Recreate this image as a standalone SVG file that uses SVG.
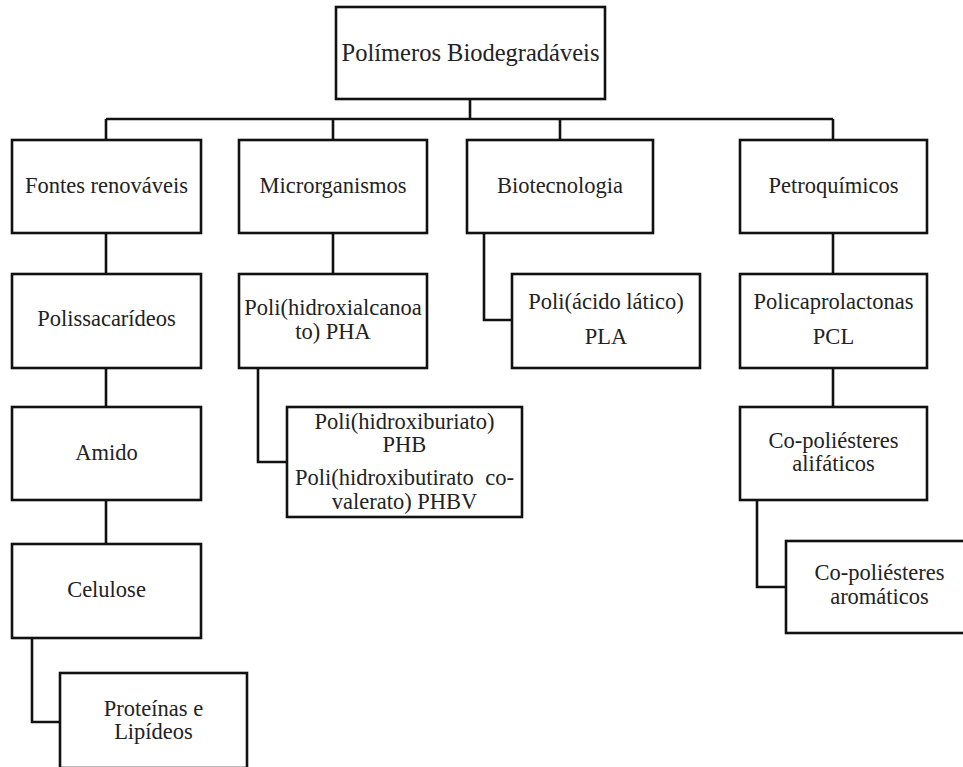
<svg xmlns="http://www.w3.org/2000/svg" width="963" height="767" viewBox="0 0 963 767">
<style>
.box{fill:#fff;stroke:#111;stroke-width:2.6}
text{font-family:'Liberation Serif','Times New Roman',Times,serif;font-size:22.5px;fill:#222;text-anchor:middle}
.root{font-size:24.5px}
.con{fill:none;stroke:#111;stroke-width:2.6;stroke-linejoin:miter}
</style>
<rect width="963" height="767" fill="#fff"/>
<g id="connectors">
<path class="con" d="M470,99 V119 M106,119 H833 M106,119 V140 M333,119 V140 M560,119 V140 M833,119 V140"/>
<path class="con" d="M106,233 V274 M106,368 V407 M106,500 V544 M32,638 V722 H60"/>
<path class="con" d="M333,233 V274 M258,368 V462 H287"/>
<path class="con" d="M484,233 V320 H512"/>
<path class="con" d="M833,233 V274 M833,368 V407 M757,500 V587 H786"/>
</g>
<g font-family="Liberation Serif, serif">
<g id="root"><rect class="box" x="336" y="7" width="269" height="92"/><text class="root" x="470.5" y="61">Polímeros Biodegradáveis</text></g>
<g id="fontes"><rect class="box" x="12" y="140" width="189" height="93"/><text x="106.5" y="193">Fontes renováveis</text></g>
<g id="micro"><rect class="box" x="239" y="140" width="188" height="93"/><text x="333" y="193">Microrganismos</text></g>
<g id="biotec"><rect class="box" x="467" y="140" width="186" height="93"/><text x="560" y="193">Biotecnologia</text></g>
<g id="petro"><rect class="box" x="740" y="140" width="187" height="93"/><text x="833.5" y="193">Petroquímicos</text></g>
<g id="polissac"><rect class="box" x="12" y="274" width="189" height="94"/><text x="106.5" y="326">Polissacarídeos</text></g>
<g id="pha"><rect class="box" x="239" y="274" width="188" height="94"/><text x="333" y="315">Poli(hidroxialcanoa</text><text x="333" y="339">to) PHA</text></g>
<g id="pla"><rect class="box" x="512" y="274" width="188" height="94"/><text x="606" y="309">Poli(ácido lático)</text><text x="606" y="344">PLA</text></g>
<g id="pcl"><rect class="box" x="740" y="274" width="187" height="94"/><text x="833.5" y="309">Policaprolactonas</text><text x="833.5" y="344">PCL</text></g>
<g id="amido"><rect class="box" x="12" y="407" width="189" height="93"/><text x="106.5" y="460">Amido</text></g>
<g id="celulose"><rect class="box" x="12" y="544" width="189" height="94"/><text x="106.5" y="597">Celulose</text></g>
<g id="proteinas"><rect class="box" x="60" y="673" width="187" height="95"/><text x="153.5" y="716">Proteínas e</text><text x="153.5" y="739">Lipídeos</text></g>
<g id="phb"><rect class="box" x="287" y="407" width="235" height="110"/><text x="404.5" y="429">Poli(hidroxiburiato)</text><text x="404.5" y="452">PHB</text><text x="404.5" y="485" word-spacing="6">Poli(hidroxibutirato co-</text><text x="404.5" y="509">valerato) PHBV</text></g>
<g id="alifaticos"><rect class="box" x="740" y="407" width="187" height="93"/><text x="833.5" y="448">Co-poliésteres</text><text x="833.5" y="471">alifáticos</text></g>
<g id="aromaticos"><rect class="box" x="786" y="541" width="187" height="92"/><text x="879.5" y="580">Co-poliésteres</text><text x="879.5" y="604">aromáticos</text></g>
</g>
</svg>
